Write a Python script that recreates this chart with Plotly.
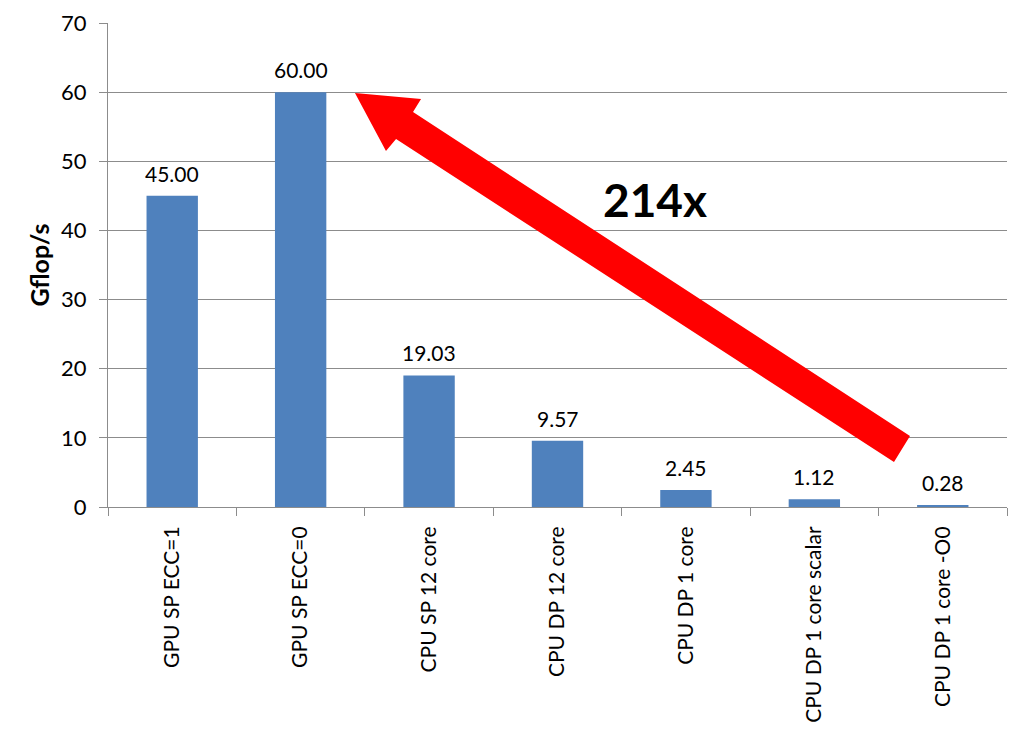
import plotly.graph_objects as go

categories = ["GPU SP ECC=1", "GPU SP ECC=0", "CPU SP 12 core", "CPU DP 12 core",
              "CPU DP 1 core", "CPU DP 1 core scalar", "CPU DP 1 core -O0"]
values = [45.00, 60.00, 19.03, 9.57, 2.45, 1.12, 0.28]
y_ticks = [0, 10, 20, 30, 40, 50, 60, 70]
speedup_label = "214x"

FONT = "Lato, 'Open Sans', sans-serif"
W, H = 1024, 746
OFF = 8  # page body margin
ML, MR, MT, MB = 108 - OFF, 25, 23 - OFF, 247
PW, PH = W - ML - MR, H - MT - MB

def to_paper(px, py):
    fx, fy = px - OFF, py - OFF
    return (fx - ML) / PW, (H - MB - fy) / PH

fig = go.Figure()
fig.add_trace(go.Bar(
    x=categories, y=values,
    marker=dict(color="#4F81BD", line=dict(width=0)),
    cliponaxis=False,
))

for c, v in zip(categories, values):
    fig.add_annotation(x=c, y=v, text=f"{v:.2f}", showarrow=False,
                       yanchor="bottom", yshift=8,
                       font=dict(family=FONT, size=21, color="#000"))

# decorative block arrow (annotation) in paper coords
pts = [(355, 93), (421, 99), (413, 112), (910, 436), (894, 462), (396, 139), (386, 151)]
pp = [to_paper(*p) for p in pts]
path = "M " + " L ".join(f"{x:.4f},{y:.4f}" for x, y in pp) + " Z"
fig.add_shape(type="path", xref="paper", yref="paper", path=path,
              fillcolor="#FF0000", line=dict(width=0), layer="above")

ax, ay = to_paper(655, 200)
fig.add_annotation(x=ax, y=ay, xref="paper", yref="paper", text="<b>" + speedup_label + "</b>",
                   showarrow=False, font=dict(family=FONT, size=46, color="#000"))

fig.update_layout(
    width=W, height=H,
    margin=dict(l=ML, r=MR, t=MT, b=MB, autoexpand=False),
    paper_bgcolor="white", plot_bgcolor="white",
    bargap=0.6, showlegend=False,
    font=dict(family=FONT, color="#000"),
)
fig.update_xaxes(
    type="category", tickangle=-90, tickson="boundaries",
    ticks="outside", ticklen=8, tickcolor="#8c8c8c",
    showline=True, linecolor="#8c8c8c", linewidth=1,
    tickfont=dict(family=FONT, size=21, color="#000"),
    ticklabelstandoff=10,
    showgrid=False, automargin=False,
)
fig.update_yaxes(
    range=[0, 70], tickvals=y_ticks,
    ticks="outside", ticklen=8, tickcolor="#8c8c8c",
    showline=True, linecolor="#8c8c8c", linewidth=1,
    showgrid=True, gridcolor="#8c8c8c", gridwidth=1,
    tickfont=dict(family=FONT, size=22, color="#000"),
    ticklabelstandoff=8,
    title=dict(text="<b>Gflop/s</b>", font=dict(family=FONT, size=25, color="#000"), standoff=4),
    zeroline=False, automargin=False,
)

fig.write_html("out.html")
